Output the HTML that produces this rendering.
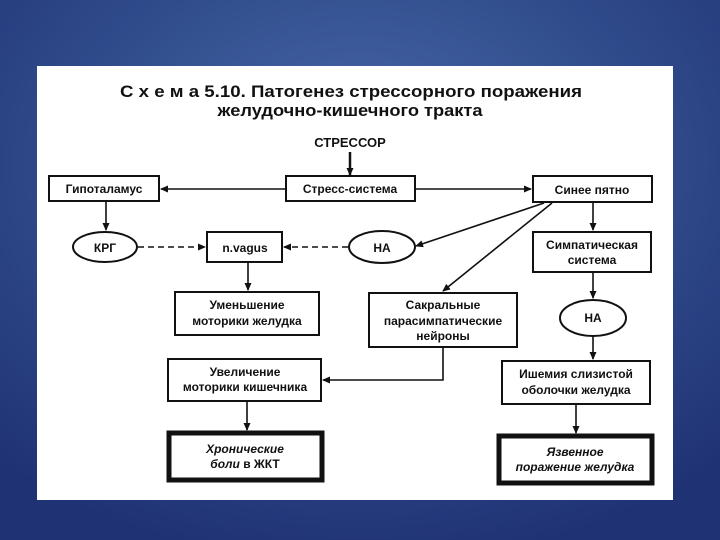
<!DOCTYPE html>
<html><head><meta charset="utf-8"><style>
html,body{margin:0;padding:0;width:720px;height:540px;overflow:hidden}
body{background:radial-gradient(ellipse 75% 75% at 50% 30%,#4a66a8 0%,#33508f 45%,#1f3274 100%);}
svg{position:absolute;left:0;top:0}
text{font-family:"Liberation Sans","DejaVu Sans",sans-serif;font-weight:bold;fill:#111;text-anchor:middle}
</style></head><body>
<svg width="720" height="540" viewBox="0 0 720 540">
<defs><marker id="a" markerWidth="8" markerHeight="8" refX="7" refY="4" orient="auto" markerUnits="userSpaceOnUse"><path d="M0,0.5 L8,4 L0,7.5 z" fill="#111"/></marker></defs>
<rect x="37" y="66" width="636" height="434" fill="#fff"/>
<text x="351" y="97" font-size="16.5" textLength="462" lengthAdjust="spacingAndGlyphs">С х е м а  5.10. Патогенез стрессорного поражения</text>
<text x="350" y="116" font-size="16.5" textLength="265" lengthAdjust="spacingAndGlyphs">желудочно-кишечного тракта</text>
<text x="350" y="147" font-size="13" font-weight="normal">СТРЕССОР</text>
<g stroke="#111" stroke-width="2" fill="#fff">
<rect x="49" y="176" width="110" height="25"/>
<rect x="286" y="176" width="129" height="25"/>
<rect x="533" y="176" width="119" height="26"/>
<ellipse cx="105" cy="247" rx="32" ry="15"/>
<rect x="207" y="232" width="75" height="30"/>
<ellipse cx="382" cy="247" rx="33" ry="16"/>
<rect x="533" y="232" width="118" height="40"/>
<rect x="175" y="292" width="144" height="43"/>
<rect x="369" y="293" width="148" height="54"/>
<ellipse cx="593" cy="318" rx="33" ry="18"/>
<rect x="168" y="359" width="153" height="42"/>
<rect x="502" y="361" width="148" height="43"/>
<rect x="169" y="433" width="153" height="47" stroke-width="5"/>
<rect x="499" y="436" width="153" height="47" stroke-width="5"/>
</g>
<g stroke="#111" stroke-width="1.6" fill="none" marker-end="url(#a)">
<line x1="350" y1="152" x2="350" y2="175" stroke-width="2.5"/>
<line x1="286" y1="189" x2="161" y2="189"/>
<line x1="415" y1="189" x2="531" y2="189"/>
<line x1="106" y1="201" x2="106" y2="230"/>
<line x1="138" y1="247" x2="205" y2="247" stroke-dasharray="6,4"/>
<line x1="348" y1="247" x2="284" y2="247" stroke-dasharray="6,4"/>
<line x1="248" y1="262" x2="248" y2="290"/>
<line x1="544" y1="203" x2="416" y2="246"/>
<line x1="552" y1="203" x2="443" y2="291"/>
<line x1="593" y1="202" x2="593" y2="230"/>
<line x1="593" y1="272" x2="593" y2="298"/>
<line x1="593" y1="336" x2="593" y2="359"/>
<polyline points="443,347 443,380 323,380"/>
<line x1="247" y1="401" x2="247" y2="430"/>
<line x1="576" y1="404" x2="576" y2="433"/>
</g>
<g font-size="12">
<text x="104" y="193">Гипоталамус</text>
<text x="350" y="193">Стресс-система</text>
<text x="592" y="194">Синее пятно</text>
<text x="105" y="252">КРГ</text>
<text x="245" y="252">n.vagus</text>
<text x="382" y="252">НА</text>
<text x="592" y="249">Симпатическая</text>
<text x="592" y="264">система</text>
<text x="247" y="309">Уменьшение</text>
<text x="247" y="325">моторики желудка</text>
<text x="443" y="309">Сакральные</text>
<text x="443" y="325">парасимпатические</text>
<text x="443" y="340">нейроны</text>
<text x="593" y="322">НА</text>
<text x="245" y="376">Увеличение</text>
<text x="245" y="391">моторики кишечника</text>
<text x="576" y="378">Ишемия слизистой</text>
<text x="576" y="394">оболочки желудка</text>
<text x="245" y="453" font-style="italic">Хронические</text>
<text x="245" y="468"><tspan font-style="italic">боли</tspan> в ЖКТ</text>
<text x="575" y="456" font-style="italic">Язвенное</text>
<text x="575" y="471" font-style="italic">поражение желудка</text>
</g>
</svg>
</body></html>
